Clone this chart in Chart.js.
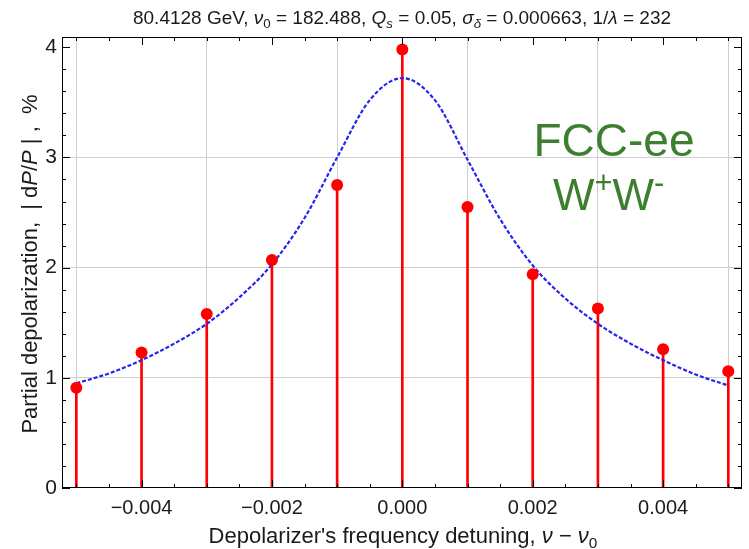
<!DOCTYPE html>
<html>
<head>
<meta charset="utf-8">
<script src="https://cdn.jsdelivr.net/npm/chart.js@4"></script>
<style>
  body { margin: 0; background: #fff; }
  canvas { display: block; }
</style>
</head>
<body>
<canvas id="myChart" width="749" height="549"></canvas>
<script>
// detuning values of the measured points
const detuning = [-0.005, -0.004, -0.003, -0.002, -0.001, 0.000, 0.001, 0.002, 0.003, 0.004, 0.005];
// partial depolarization |dP/P|, %
const depol = [0.91, 1.23, 1.58, 2.07, 2.75, 3.98, 2.55, 1.94, 1.63, 1.26, 1.06];

// blue dashed model curve
const curveX = [-0.005, -0.0045, -0.004, -0.0035, -0.003, -0.0025, -0.002, -0.0015, -0.001, -0.0005, 0,
                0.0005, 0.001, 0.0015, 0.002, 0.0025, 0.003, 0.0035, 0.004, 0.0045, 0.005];
const curveY = [0.95, 1.04, 1.16, 1.31, 1.49, 1.73, 2.03, 2.45, 3.00, 3.52, 3.72,
                3.52, 2.98, 2.44, 2.02, 1.72, 1.49, 1.31, 1.16, 1.03, 0.93];

const xMajor = [-0.004, -0.002, 0, 0.002, 0.004];

const FONT = '"Liberation Sans", Arial, sans-serif';
const ctx = document.getElementById('myChart');

function segFont(s, size) {
  const sz = (s.sub || s.sup) ? size * 0.7 : size;
  return (s.it ? 'italic ' : '') + sz + 'px ' + FONT;
}

function drawRich(c, segs, x, y, size, align) {
  let total = 0;
  const widths = segs.map(s => { c.font = segFont(s, size); const w = c.measureText(s.t).width; total += w; return w; });
  let cx = align === 'left' ? x : x - total / 2;
  c.textAlign = 'left';
  c.textBaseline = 'alphabetic';
  segs.forEach((s, i) => {
    c.font = segFont(s, size);
    let dy = 0;
    if (s.sub) dy = size * 0.22;
    if (s.sup) dy = -size * 0.38;
    c.fillText(s.t, cx, y + dy);
    cx += widths[i];
  });
}

const titleSegs = [
  {t: '80.4128 GeV, '}, {t: 'ν', it: true}, {t: '0', sub: true}, {t: ' = 182.488, '},
  {t: 'Q', it: true}, {t: 's', it: true, sub: true}, {t: ' = 0.05, '},
  {t: 'σ', it: true}, {t: 'δ', it: true, sub: true}, {t: ' = 0.000663, 1/'},
  {t: 'λ', it: true}, {t: ' = 232'}
];
const xTitleSegs = [
  {t: "Depolarizer's frequency detuning, "}, {t: 'ν', it: true}, {t: ' − '},
  {t: 'ν', it: true}, {t: '0', sub: true}
];
const yTitleSegs = [
  {t: 'Partial depolarization,  | d'}, {t: 'P', it: true}, {t: '/'}, {t: 'P', it: true}, {t: ' | ,  %'}
];

const framePlugin = {
  id: 'frame',
  afterDatasetsDraw(chart) {
    const c = chart.ctx, a = chart.chartArea;
    const xs = chart.scales.x, ys = chart.scales.y;
    c.save();
    c.strokeStyle = '#000';
    c.lineWidth = 1;
    c.strokeRect(a.left + 0.5, a.top + 0.5, a.right - a.left - 1, a.bottom - a.top - 1);
    c.beginPath();
    // inner frame ticks: minor every 0.0005 on x, every 0.2 on y
    for (let k = -10; k <= 10; k++) {
      const v = k * 0.0005;
      const len = xMajor.some(m => Math.abs(m - v) < 1e-9) ? 8 : 4;
      const px = Math.round(xs.getPixelForValue(v)) + 0.5;
      c.moveTo(px, a.bottom); c.lineTo(px, a.bottom - len);
      c.moveTo(px, a.top); c.lineTo(px, a.top + len);
    }
    for (let k = 0; k <= 20; k++) {
      const v = k * 0.2;
      const len = k % 5 === 0 ? 8 : 4;
      const py = Math.round(ys.getPixelForValue(v)) + 0.5;
      c.moveTo(a.left, py); c.lineTo(a.left + len, py);
      c.moveTo(a.right, py); c.lineTo(a.right - len, py);
    }
    c.stroke();
    c.restore();
  },
  afterDraw(chart) {
    const c = chart.ctx, a = chart.chartArea;
    c.save();
    c.fillStyle = '#1a1a1a';
    drawRich(c, titleSegs, (a.left + a.right) / 2, 24, 19);
    drawRich(c, xTitleSegs, 403, 543, 22);
    c.translate(37, 264);
    c.rotate(-Math.PI / 2);
    drawRich(c, yTitleSegs, 0, 0, 22);
    c.restore();

    c.save();
    c.fillStyle = '#3b7f2f';
    c.textAlign = 'center';
    c.textBaseline = 'alphabetic';
    c.font = '46px ' + FONT;
    c.fillText('FCC-ee', 614, 156);
    drawRich(c, [{t: 'W'}, {t: '+', sup: true}, {t: 'W'}, {t: '-', sup: true}], 553, 210, 44, 'left');
    c.restore();
  }
};

new Chart(ctx, {
  type: 'scatter',
  data: {
    datasets: [
      {
        type: 'scatter',
        data: detuning.map((x, i) => ({x: x, y: depol[i]})),
        pointRadius: 6,
        pointBackgroundColor: '#ff0000',
        pointBorderWidth: 0,
        order: 0
      },
      {
        type: 'line',
        data: curveX.map((x, i) => ({x: x, y: curveY[i]})),
        borderColor: '#2525f0',
        borderWidth: 2.2,
        borderDash: [4, 2],
        pointRadius: 0,
        cubicInterpolationMode: 'monotone',
        fill: false,
        order: 1
      },
      {
        type: 'bar',
        data: detuning.map((x, i) => ({x: x, y: depol[i]})),
        backgroundColor: '#ff0000',
        barThickness: 2,
        order: 2
      }
    ]
  },
  options: {
    responsive: false,
    animation: false,
    layout: { padding: { top: 37, right: 7, left: 0, bottom: 0 } },
    plugins: { legend: { display: false }, tooltip: { enabled: false } },
    scales: {
      x: {
        type: 'linear',
        min: -0.00522,
        max: 0.00521,
        offset: false,
        afterFit(scale) { scale.height = 61; },
        border: { display: false },
        grid: {
          drawTicks: false,
          color: '#cfcfcf'
        },
        ticks: {
          stepSize: 0.002,
          includeBounds: false,
          padding: 8,
          color: '#1a1a1a',
          font: { size: 20, family: FONT },
          maxRotation: 0,
          callback: v => (v < -1e-9 ? '−' : '') + Math.abs(v).toFixed(3)
        }
      },
      y: {
        min: 0,
        max: 4.093,
        afterFit(scale) { scale.width = 62; },
        border: { display: false },
        grid: {
          drawTicks: false,
          color: ctx => (ctx.tick && (ctx.tick.value === 0 || ctx.tick.value === 4)) ? 'rgba(0,0,0,0)' : '#cfcfcf'
        },
        ticks: {
          stepSize: 1,
          includeBounds: false,
          padding: 5,
          color: '#1a1a1a',
          font: { size: 21, family: FONT },
          callback: v => String(v)
        }
      }
    }
  },
  plugins: [framePlugin]
});
</script>
</body>
</html>
